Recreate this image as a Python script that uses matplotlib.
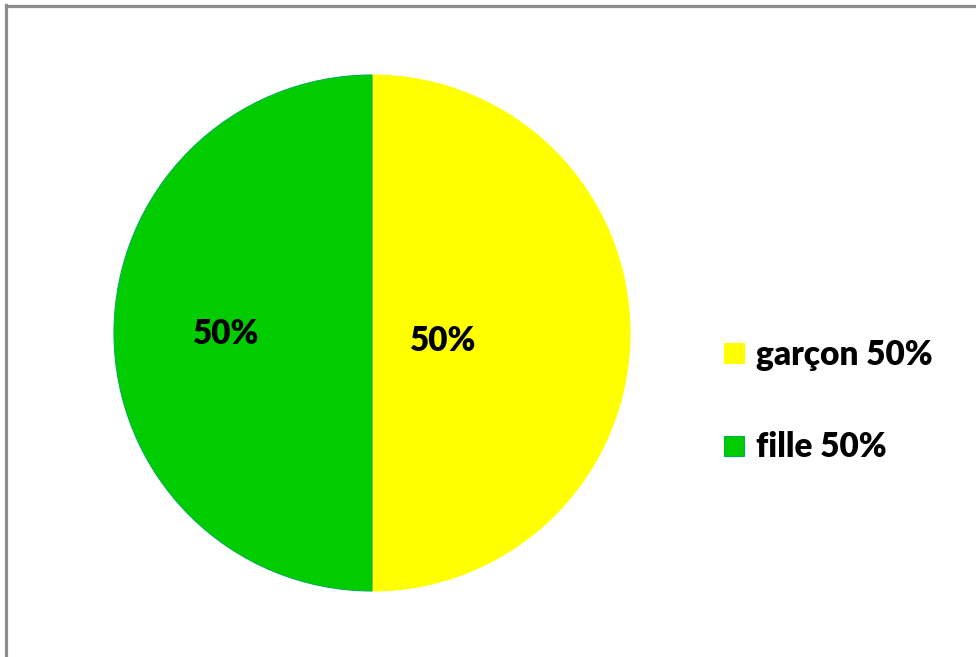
import matplotlib
matplotlib.use('Agg')
import matplotlib.pyplot as plt
from matplotlib.lines import Line2D

plt.rcParams['font.family'] = ['Lato', 'DejaVu Sans']

# pie data
labels = ['garçon', 'fille']
values = [50, 50]
colors = ['#ffff00', '#00cc00']
edges = ['#ffff00', '#00b050']

W, H = 976, 657
fig = plt.figure(figsize=(W / 100, H / 100), dpi=100)

# pie centre and radius in pixels
cx, cy, r = 372, 333, 258
ax = fig.add_axes([(cx - r) / W, (H - cy - r) / H, 2 * r / W, 2 * r / H])

wedges, _ = ax.pie(values, colors=colors, startangle=90, counterclock=False,
                   radius=1, center=(0, 0), frame=True)
for w, ec in zip(wedges, edges):
    w.set_edgecolor(ec)
    w.set_linewidth(0.8)

ax.set_xlim(-1, 1)
ax.set_ylim(-1, 1)
ax.set_aspect('auto')
ax.axis('off')

# percentage labels inside each slice
total = sum(values)
label_pos = [(0.275, -0.03), (-0.566, -0.003)]
for v, (px, py) in zip(values, label_pos):
    ax.text(px, py, f'{round(100 * v / total)}%', ha='center', va='center',
            fontsize=24, fontweight='heavy', color='black')

# legend
handles = [Line2D([0], [0], marker='s', linestyle='none', markersize=14.5,
                  markerfacecolor=c, markeredgecolor=e, markeredgewidth=0.8)
           for c, e in zip(colors, edges)]
leg_text = [f'{l} {round(100 * v / total)}%' for l, v in zip(labels, values)]
leg = fig.legend(handles, leg_text, loc='center left',
                 bbox_to_anchor=(721 / W, 1 - 401 / H), frameon=False,
                 prop={'size': 24, 'weight': 'heavy'}, handlelength=0.8,
                 handletextpad=0.25, labelspacing=1.82, borderpad=0,
                 borderaxespad=0)

# frame lines along top and left
fig.add_artist(Line2D([5.5 / W, 1], [1 - 6 / H, 1 - 6 / H], color='#8c8c8c',
                      linewidth=2.3, transform=fig.transFigure))
fig.add_artist(Line2D([6 / W, 6 / W], [0, 1 - 5 / H], color='#8c8c8c',
                      linewidth=2.3, transform=fig.transFigure))

fig.savefig('out.png', dpi=100, facecolor='white')
